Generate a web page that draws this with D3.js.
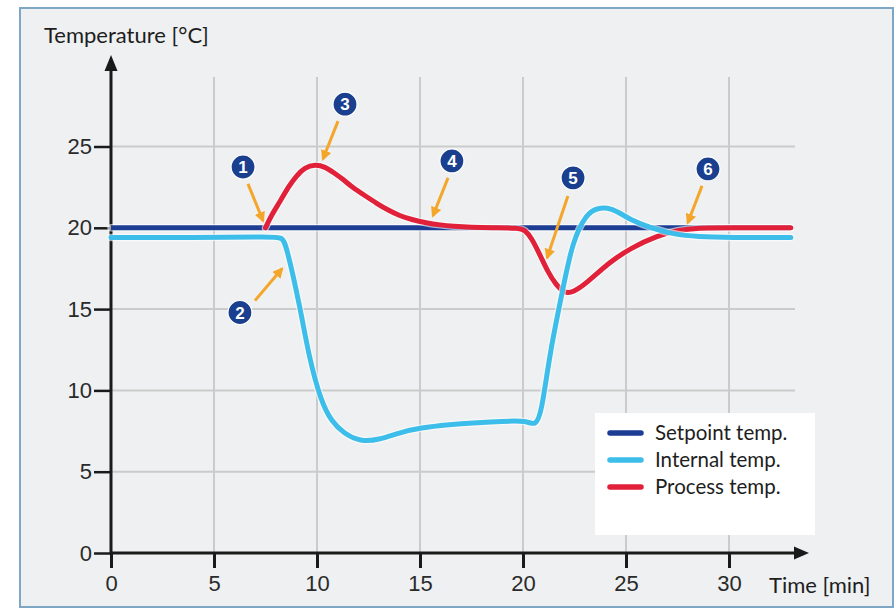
<!DOCTYPE html>
<html>
<head>
<meta charset="utf-8">
<script src="https://cdn.jsdelivr.net/npm/d3@7"></script>
<style>
  body { margin: 0; background: #fff; }
  svg { display: block; }
</style>
</head>
<body>
<script>
// ---- data ----
const xTicks = [0, 5, 10, 15, 20, 25, 30];
const yTicks = [0, 5, 10, 15, 20, 25];

const setpointT = [0, 33];
const setpointV = [20, 20];

const internalT = [0, 4, 7.9, 8.3, 8.5, 9.2, 9.6, 10.2, 10.7, 11.3, 12.1, 13, 14, 15, 16.5, 17.5, 19, 20.2, 20.6, 20.9, 21.3, 21.9, 22.4, 23.1, 23.6, 24.1, 24.6, 25.2, 26.2, 27.3, 28.5, 30, 33];
const internalV = [19.4, 19.4, 19.45, 19.4, 19.0, 15, 12.1, 9.3, 8.1, 7.35, 6.85, 6.95, 7.4, 7.7, 7.9, 8.0, 8.1, 8.15, 7.8, 8.6, 12.3, 16, 19.2, 20.9, 21.2, 21.25, 21.0, 20.5, 20.0, 19.6, 19.45, 19.4, 19.4];

const processT = [7.5, 7.8, 8.2, 8.6, 9.0, 9.4, 9.9, 10.4, 10.8, 11.3, 11.7, 12.3, 12.9, 13.5, 14, 14.6, 15.3, 16, 16.6, 17.5, 18.5, 19.8, 20.1, 20.4, 20.8, 21.2, 21.6, 22, 22.4, 23.1, 24.2, 25.3, 26.5, 27.5, 28.5, 30, 33];
const processV = [20, 20.8, 21.6, 22.5, 23.2, 23.7, 23.9, 23.75, 23.4, 22.95, 22.5, 22.0, 21.5, 21.05, 20.75, 20.5, 20.3, 20.17, 20.1, 20.03, 20, 20, 19.85, 19.4, 18.4, 17.3, 16.5, 16.0, 16.0, 16.6, 17.9, 18.8, 19.5, 19.85, 20, 20, 20];

const seriesNames = ["Setpoint temp.", "Internal temp.", "Process temp."];
const seriesColors = ["#1d3c93", "#3dbde9", "#e1213a"];

// numbered callouts: badge position and arrow (from -> to), in data units
const calloutNum = [1, 2, 3, 4, 5, 6];
const calloutT = [6.41, 6.26, 11.36, 16.55, 22.43, 28.98];
const calloutV = [23.74, 14.79, 27.6, 24.11, 23.07, 23.62];
const arrowFromT = [6.65, 6.99, 11.02, 16.36, 22.18, 28.69];
const arrowFromV = [22.7, 15.52, 26.56, 23.07, 21.96, 22.58];
const arrowToT = [7.38, 8.30, 10.29, 15.63, 21.17, 28.0];
const arrowToV = [20.43, 17.48, 24.23, 20.74, 18.16, 20.31];

const W = 895, H = 611;
const svg = d3.select("body").append("svg").attr("width", W).attr("height", H);

// frame
svg.append("rect")
  .attr("x", 20).attr("y", 8).attr("width", 873).attr("height", 599)
  .attr("fill", "#eef0f1").attr("stroke", "#7ea7c6").attr("stroke-width", 2);

const x = d3.scaleLinear().domain([0, 30]).range([111, 729]);
const y = d3.scaleLinear().domain([0, 25]).range([553, 146.5]);

const defs = svg.append("defs");
defs.append("marker")
  .attr("id", "orangeHead")
  .attr("viewBox", "0 0 10 10")
  .attr("refX", 8).attr("refY", 5)
  .attr("markerWidth", 3.6).attr("markerHeight", 3.6)
  .attr("orient", "auto")
  .append("path").attr("d", "M0,0L10,5L0,10Z").attr("fill", "#f4a62a");

// grid
const grid = svg.append("g");
grid.selectAll("line.v").data(xTicks.filter(d => d > 0)).enter().append("line")
  .attr("x1", d => x(d)).attr("x2", d => x(d))
  .attr("y1", 77).attr("y2", y(0))
  .attr("stroke", "#cbcbcb").attr("stroke-width", 2);
grid.selectAll("line.h").data(yTicks.filter(d => d > 0)).enter().append("line")
  .attr("x1", x(0)).attr("x2", 795)
  .attr("y1", d => y(d)).attr("y2", d => y(d))
  .attr("stroke", "#cbcbcb").attr("stroke-width", 2);

// legend box
svg.append("rect")
  .attr("x", 595).attr("y", 413).attr("width", 220).attr("height", 122)
  .attr("fill", "#ffffff");

// axes
const xAxis = d3.axisBottom(x).tickValues(xTicks).tickSize(15).tickPadding(7).tickFormat(d3.format("d"));
const yAxis = d3.axisLeft(y).tickValues(yTicks).tickSize(17).tickPadding(2).tickFormat(d3.format("d"));

const gx = svg.append("g").attr("transform", `translate(0,${y(0)})`).call(xAxis);
gx.select(".domain").remove();
gx.selectAll(".tick line").attr("stroke", "#1a1a1a").attr("stroke-width", 3);
gx.selectAll(".tick text").attr("font-family", "Liberation Sans, Arial, sans-serif")
  .attr("font-size", 22).attr("fill", "#2a2a2a");

const gy = svg.append("g").attr("transform", `translate(${x(0)},0)`).call(yAxis);
gy.select(".domain").remove();
gy.selectAll(".tick line").attr("stroke", "#1a1a1a").attr("stroke-width", 2.5);
gy.selectAll(".tick text").attr("font-family", "Liberation Sans, Arial, sans-serif")
  .attr("font-size", 22).attr("fill", "#2a2a2a");

// axis lines with arrow heads
svg.append("line").attr("x1", x(0)).attr("x2", 797).attr("y1", y(0)).attr("y2", y(0))
  .attr("stroke", "#1a1a1a").attr("stroke-width", 3);
svg.append("path").attr("d", `M${809},${y(0)}L${794},${y(0) - 6.5}L${794},${y(0) + 6.5}Z`).attr("fill", "#1a1a1a");
svg.append("line").attr("x1", x(0)).attr("x2", x(0)).attr("y1", y(0) + 1.5).attr("y2", 68)
  .attr("stroke", "#1a1a1a").attr("stroke-width", 3);
svg.append("path").attr("d", `M${x(0)},${55}L${x(0) - 6.5},${71}L${x(0) + 6.5},${71}Z`).attr("fill", "#1a1a1a");

svg.append("text").attr("x", 44).attr("y", 43)
  .attr("font-family", "Lato, sans-serif").attr("font-size", 22).attr("fill", "#1e1e1e")
  .text("Temperature [°C]");
svg.append("text").attr("x", 769).attr("y", 593)
  .attr("font-family", "Lato, sans-serif").attr("font-size", 22).attr("fill", "#1e1e1e")
  .text("Time [min]");

// series (B-spline smooths the hand-read points)
const line = d3.line().x(d => x(d[0])).y(d => y(d[1])).curve(d3.curveBasis);
const series = [
  d3.zip(setpointT, setpointV),
  d3.zip(processT, processV),
  d3.zip(internalT, internalV)
];
const order = [0, 2, 1];
series.forEach((pts, i) => {
  svg.append("path").datum(pts).attr("d", line)
    .attr("fill", "none").attr("stroke", "#ffffff").attr("stroke-opacity", 0.6)
    .attr("stroke-width", 7.5).attr("stroke-linecap", "round").attr("stroke-linejoin", "round");
  svg.append("path").datum(pts).attr("d", line)
    .attr("fill", "none").attr("stroke", seriesColors[order[i]])
    .attr("stroke-width", 5).attr("stroke-linecap", i === 0 ? "butt" : "round").attr("stroke-linejoin", "round");
});

// legend entries
const leg = svg.append("g");
seriesNames.forEach((name, i) => {
  const cy = 433 + i * 27;
  leg.append("line").attr("x1", 610).attr("x2", 641).attr("y1", cy).attr("y2", cy)
    .attr("stroke", seriesColors[i]).attr("stroke-width", 5.5).attr("stroke-linecap", "round");
  leg.append("text").attr("x", 655).attr("y", cy + 7)
    .attr("font-family", "Lato, sans-serif").attr("font-size", 20.5).attr("fill", "#1e1e1e")
    .text(name);
});

// callouts
const callouts = svg.append("g");
calloutNum.forEach((n, i) => {
  callouts.append("line")
    .attr("x1", x(arrowFromT[i])).attr("y1", y(arrowFromV[i]))
    .attr("x2", x(arrowToT[i])).attr("y2", y(arrowToV[i]))
    .attr("stroke", "#f4a62a").attr("stroke-width", 3)
    .attr("marker-end", "url(#orangeHead)");
  callouts.append("circle").attr("cx", x(calloutT[i])).attr("cy", y(calloutV[i])).attr("r", 12)
    .attr("fill", "#1b3f8f").attr("stroke", "#ffffff").attr("stroke-width", 1.2);
  callouts.append("text").attr("x", x(calloutT[i])).attr("y", y(calloutV[i]) + 6)
    .attr("text-anchor", "middle")
    .attr("font-family", "Liberation Sans, Arial, sans-serif").attr("font-weight", "bold")
    .attr("font-size", 17).attr("fill", "#ffffff")
    .text(n);
});
</script>
</body>
</html>
